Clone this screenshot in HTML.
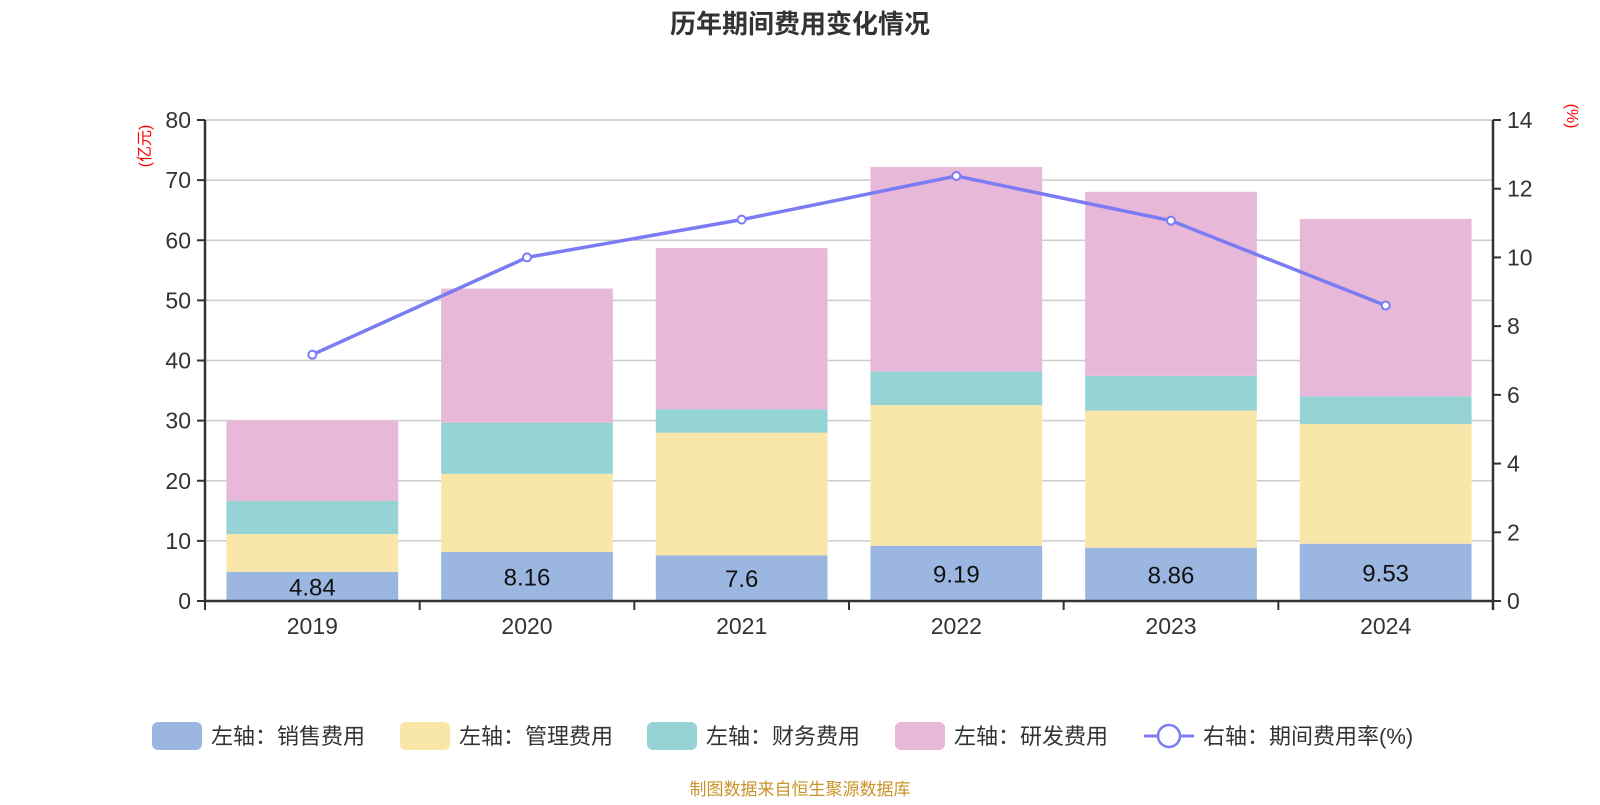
<!DOCTYPE html>
<html><head><meta charset="utf-8"><style>
body{margin:0;background:#fff;width:1600px;height:800px;overflow:hidden}
svg text{font-family:"Liberation Sans","Noto Sans CJK SC",sans-serif}
</style></head><body>
<svg id="c" width="1600" height="800" xmlns="http://www.w3.org/2000/svg"></svg>
<script>
const categories=["2019","2020","2021","2022","2023","2024"];
const sales=[4.84,8.16,7.6,9.19,8.86,9.53];
const mgmt=[6.3,13.0,20.4,23.4,22.8,19.9];
const fin=[5.5,8.5,3.9,5.6,5.8,4.6];
const rd=[13.4,22.3,26.8,34.0,30.6,29.5];
const rate=[7.17,10.0,11.1,12.37,11.07,8.6];
const leftTicks=[0,10,20,30,40,50,60,70,80];
const rightTicks=[0,2,4,6,8,10,12,14];
const colors=["#9bb7e1","#f8e7a9","#96d3d4","#e7b8d8"];
const names=["左轴：销售费用","左轴：管理费用","左轴：财务费用","左轴：研发费用"];
const L=205,R=1493,T=120,B=601;
const yL=v=>B-(B-T)*v/80, yR=v=>B-(B-T)*v/14;
const cw=(R-L)/categories.length, xC=i=>L+cw*(i+0.5);
const svg=document.getElementById('c');const NS="http://www.w3.org/2000/svg";
function mk(t,a,p){const e=document.createElementNS(NS,t);for(const k in a)e.setAttribute(k,a[k]);(p||svg).appendChild(e);return e;}
let t=mk('text',{x:800,y:33,'text-anchor':'middle','font-size':26,'font-weight':'bold',fill:'#333'});t.textContent="历年期间费用变化情况";

leftTicks.forEach(v=>{const y=yL(v);
 const g=mk('line',{x1:L,x2:R,y1:y,y2:y,stroke:'#ccc','stroke-width':1.5});
 mk('line',{x1:L-8,x2:L,y1:y,y2:y,stroke:'#333','stroke-width':2});
 const tx=mk('text',{x:L-14,y:y+8,'text-anchor':'end','font-size':23,fill:'#333'});tx.textContent=v;
 });
rightTicks.forEach(v=>{const y=yR(v);
 mk('line',{x1:R,x2:R+8,y1:y,y2:y,stroke:'#333','stroke-width':2});
 const tx=mk('text',{x:R+14,y:y+8,'font-size':23,fill:'#333'});tx.textContent=v;
 });
const bw=cw*0.8;
categories.forEach((c,i)=>{let base=0;
 [sales,mgmt,fin,rd].forEach((s,k)=>{const v=s[i];
  const r=mk('rect',{x:xC(i)-bw/2,y:yL(base+v),width:bw,height:yL(base)-yL(base+v),fill:colors[k]});
  base+=v;});
 const lb=mk('text',{x:xC(i),y:yL(sales[i]/2)+9,'text-anchor':'middle','font-size':24,fill:'#111'});lb.textContent=sales[i];
 
 const xl=mk('text',{x:xC(i),y:B+33,'text-anchor':'middle','font-size':23,fill:'#333'});xl.textContent=c;
 
});
for(let i=0;i<=categories.length;i++)mk('line',{x1:L+cw*i,x2:L+cw*i,y1:B,y2:B+9,stroke:'#333','stroke-width':2});
mk('line',{x1:L,x2:L,y1:T,y2:B,stroke:'#333','stroke-width':2.5});
mk('line',{x1:R,x2:R,y1:T,y2:B+9,stroke:'#333','stroke-width':2.5});
mk('line',{x1:L,x2:R,y1:B,y2:B,stroke:'#333','stroke-width':2.5});
const pl=mk('polyline',{points:rate.map((v,i)=>xC(i)+','+yR(v)).join(' '),fill:'none',stroke:'#7b7cf4','stroke-width':3.5});

rate.forEach((v,i)=>{const p=mk('circle',{cx:xC(i),cy:yR(v),r:4,fill:'#fff',stroke:'#7b7cf4','stroke-width':2});
 });
let u=mk('text',{transform:'translate(150,146) rotate(-90)','text-anchor':'middle','font-size':16,fill:'red'});u.textContent="(亿元)";

u=mk('text',{transform:'translate(1567,116) rotate(90)','text-anchor':'middle','font-size':16,fill:'red'});u.textContent="(%)";

const lx=[152,400,647,895];
names.forEach((n,k)=>{const r=mk('rect',{x:lx[k],y:722,width:50,height:28,rx:6,fill:colors[k]});
 
 const tx=mk('text',{x:lx[k]+59,y:744,'font-size':22,fill:'#333'});tx.textContent=n;
 });
mk('line',{x1:1144,x2:1194,y1:736,y2:736,stroke:'#7b7cf4','stroke-width':3});
mk('circle',{cx:1169,cy:736,r:11,fill:'#fff',stroke:'#7b7cf4','stroke-width':2.5});
t=mk('text',{x:1203,y:744,'font-size':22,fill:'#333'});t.textContent="右轴：期间费用率(%)";

t=mk('text',{x:800,y:795,'text-anchor':'middle','font-size':17,fill:'#c8942a'});t.textContent="制图数据来自恒生聚源数据库";

</script>
</body></html>
